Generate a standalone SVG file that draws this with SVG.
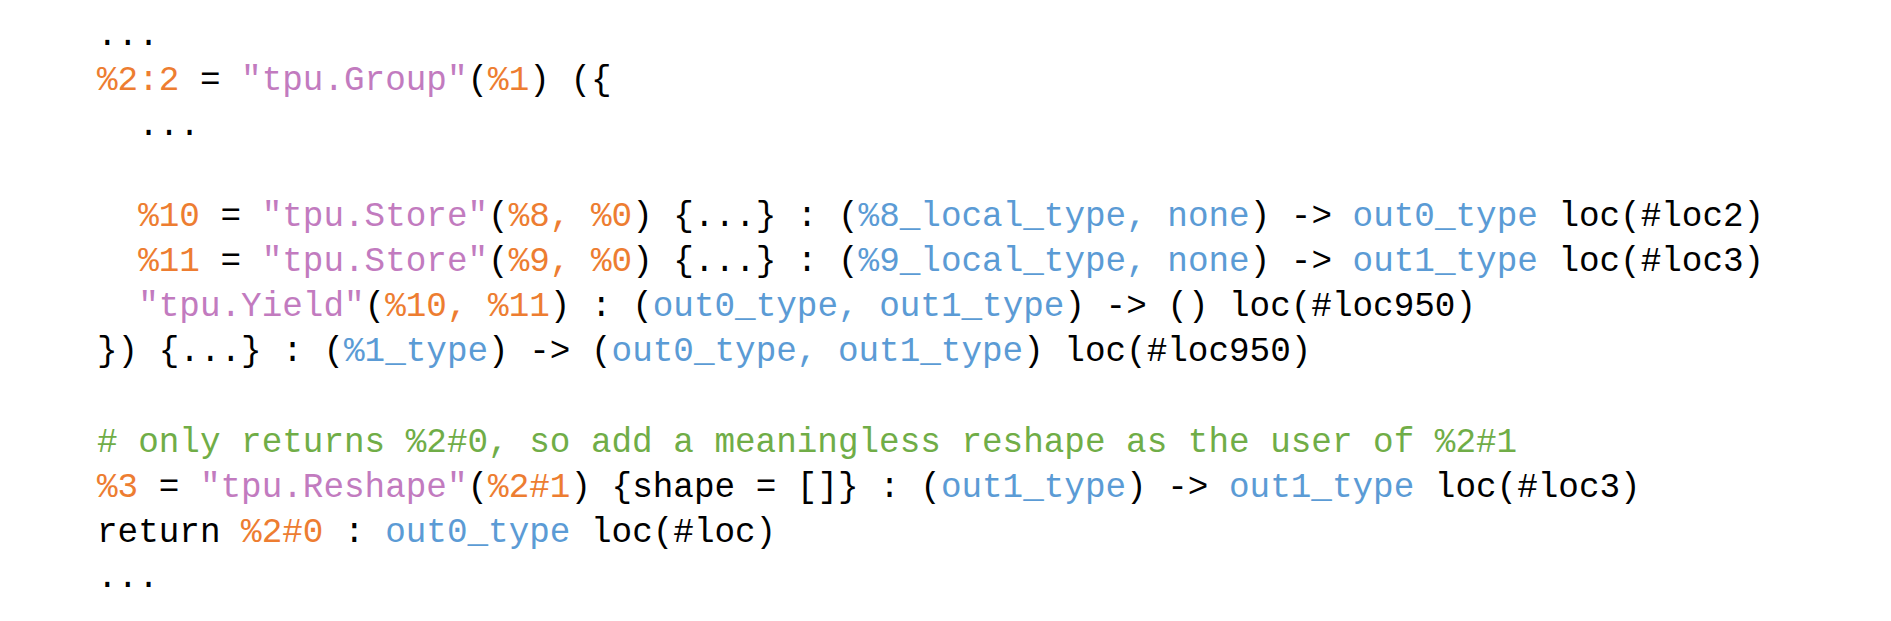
<svg xmlns="http://www.w3.org/2000/svg" width="1891" height="621" viewBox="0 0 1891 621">
<style>
text{font-family:"Liberation Mono","DejaVu Sans Mono",monospace;font-size:34.3px;fill:#000;white-space:pre}
.o{fill:#ED7D31}.p{fill:#C27BBF}.b{fill:#5B9BD5}.g{fill:#70AD47}
</style>
<rect width="1891" height="621" fill="#fff"/>
<g id="code" xml:space="preserve">
<text x="97" y="45">...</text>
<text x="97" y="90"><tspan class="o">%2:2</tspan> = <tspan class="p">"tpu.Group"</tspan>(<tspan class="o">%1</tspan>) ({</text>
<text x="97" y="135">  ...</text>
<text x="97" y="226">  <tspan class="o">%10</tspan> = <tspan class="p">"tpu.Store"</tspan>(<tspan class="o">%8, %0</tspan>) {...} : (<tspan class="b">%8_local_type, none</tspan>) -&gt; <tspan class="b">out0_type</tspan> loc(#loc2)</text>
<text x="97" y="271">  <tspan class="o">%11</tspan> = <tspan class="p">"tpu.Store"</tspan>(<tspan class="o">%9, %0</tspan>) {...} : (<tspan class="b">%9_local_type, none</tspan>) -&gt; <tspan class="b">out1_type</tspan> loc(#loc3)</text>
<text x="97" y="316">  <tspan class="p">"tpu.Yield"</tspan>(<tspan class="o">%10, %11</tspan>) : (<tspan class="b">out0_type, out1_type</tspan>) -&gt; () loc(#loc950)</text>
<text x="97" y="361">}) {...} : (<tspan class="b">%1_type</tspan>) -&gt; (<tspan class="b">out0_type, out1_type</tspan>) loc(#loc950)</text>
<text x="97" y="452" class="g"># only returns %2#0, so add a meaningless reshape as the user of %2#1</text>
<text x="97" y="497"><tspan class="o">%3</tspan> = <tspan class="p">"tpu.Reshape"</tspan>(<tspan class="o">%2#1</tspan>) {shape = []} : (<tspan class="b">out1_type</tspan>) -&gt; <tspan class="b">out1_type</tspan> loc(#loc3)</text>
<text x="97" y="542">return <tspan class="o">%2#0</tspan> : <tspan class="b">out0_type</tspan> loc(#loc)</text>
<text x="97" y="587">...</text>
</g>
</svg>
